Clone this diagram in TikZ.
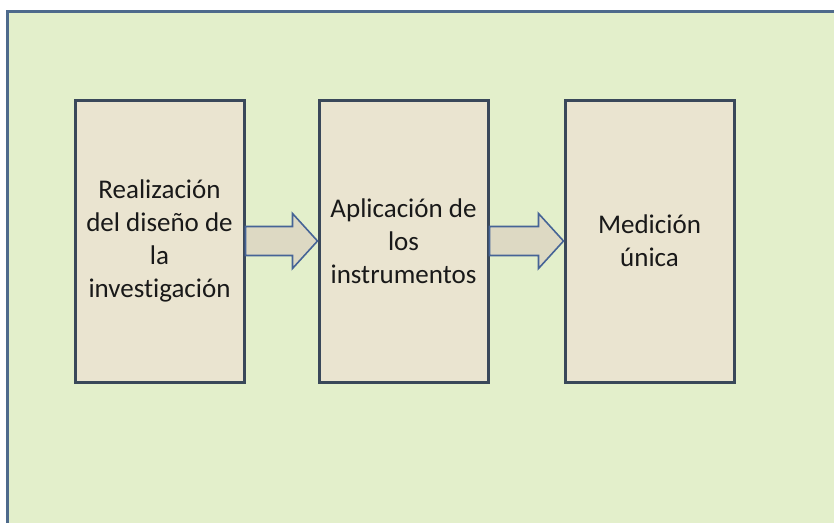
\documentclass[tikz,border=0pt]{standalone}
\usepackage{fontspec}
\setmainfont[Ligatures=CommonOff]{Carlito}
\usepackage{xcolor}
\usetikzlibrary{positioning,calc}

\definecolor{fondo}{RGB}{227,239,203}
\definecolor{marco}{RGB}{78,106,140}
\definecolor{caja}{RGB}{234,228,208}
\definecolor{borde}{RGB}{58,72,90}
\definecolor{flecha}{RGB}{221,217,195}
\definecolor{bordeflecha}{RGB}{70,100,150}

\tikzset{
	paso/.style={draw=borde, line width=3pt, fill=caja, minimum width=169pt,
		minimum height=282pt, inner sep=0pt, align=center,
		font=\fontsize{27}{33}\selectfont, text=black!90},
	bloque/.style={draw=bordeflecha, line width=1.6pt, fill=flecha, line join=miter}
}

% flecha gruesa entre dos cajas
\newcommand{\flechabloque}[2]{%
	\draw[bloque] let \p1=(#1.east), \p2=(#2.west), \n1={\x2-25pt} in
		(\x1,\y1+14.5pt) -- (\n1,\y1+14.5pt) -- (\n1,\y1+27.5pt) -- (\x2,\y1)
		-- (\n1,\y1-27.5pt) -- (\n1,\y1-14.5pt) -- (\x1,\y1-14.5pt) -- cycle;}

\begin{document}
\begin{tikzpicture}[x=1pt,y=-1pt]
	\clip (0,0) rectangle (834,522);
	\fill[white] (0,0) rectangle (834,522);
	\draw[marco, line width=3pt, fill=fondo] (7,11) rectangle (900,600);

	\node[paso] (realiza) at (159.5,241) {Realización\\del diseño de\\la\\investigación};
	\node[paso, right=72pt of realiza] (aplica) {Aplicación de\\los\\instrumentos};
	\node[paso, right=74pt of aplica] (medicion) {Medición\\única};

	\flechabloque{realiza}{aplica}
	\flechabloque{aplica}{medicion}
\end{tikzpicture}
\end{document}
